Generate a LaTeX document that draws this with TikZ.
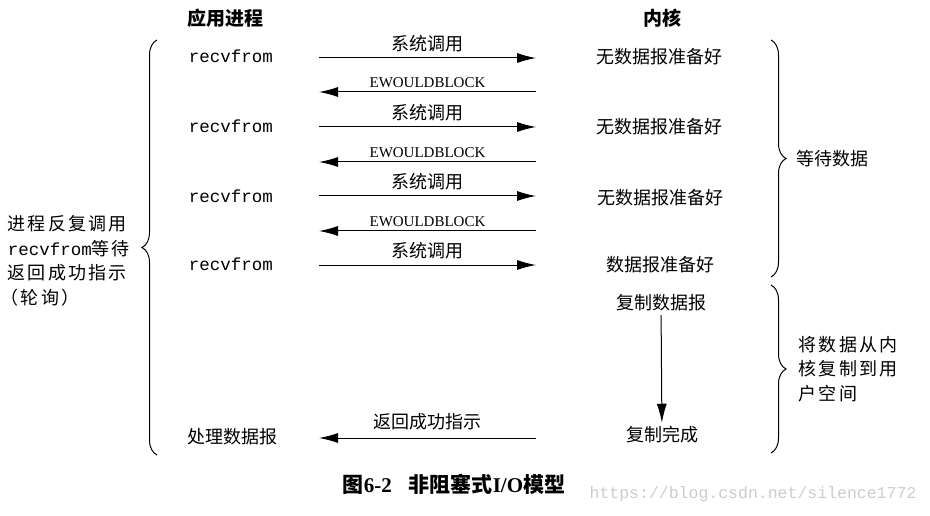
\documentclass[tikz,border=0pt]{standalone}
\usepackage{fontspec}
\setmainfont{Liberation Serif}
\setmonofont{Liberation Mono}
\newfontfamily\cjk{Noto Sans CJK SC}
\newfontfamily\cjkwide{Noto Sans CJK SC}[LetterSpace=12]
\usetikzlibrary{arrows.meta,decorations.pathreplacing,positioning}

\begin{document}
\begin{tikzpicture}[x=1pt, y=-1pt, line width=1pt,
    head/.style = {font=\cjk\bfseries\fontsize{19}{22}\selectfont},
    txt/.style = {font=\cjk\fontsize{18}{22}\selectfont},
    wide/.style = {font=\cjkwide\fontsize{18}{24.5}\selectfont, align=left, anchor=west},
    call/.style = {font=\ttfamily\fontsize{17.5}{20}\selectfont, anchor=west},
    err/.style = {font=\fontsize{15}{17}\selectfont},
    arr/.style = {-{Latex[length=19pt,width=10pt]}},
    brace/.style = {decorate, decoration={brace, amplitude=15pt}}]
    \useasboundingbox (0,0) rectangle (930,516);
    \node[head] (app) at (225,18) {应用进程};
    \node[head] (kern) at (662,18) {内核};
    \node[call] (r1) at (185,56) {recvfrom};
    \node[call] (r2) at (185,126) {recvfrom};
    \node[call] (r3) at (185,196) {recvfrom};
    \node[call] (r4) at (185,264) {recvfrom};
    \node[txt, anchor=west] (proc) at (184,437) {处理数据报};
    \node[txt] (k1) at (659,57) {无数据报准备好};
    \node[txt] (k2) at (659,127) {无数据报准备好};
    \node[txt] (k3) at (660,198) {无数据报准备好};
    \node[txt] (k4) at (660,265) {数据报准备好};
    \node[txt] (cp) at (661,303) {复制数据报};
    \node[txt] (done) at (662,435) {复制完成};
    \coordinate (a1) at (319,58);  \coordinate (b1) at (536,58);
    \coordinate (a2) at (319,92);  \coordinate (b2) at (536,92);
    \coordinate (a3) at (319,127); \coordinate (b3) at (536,127);
    \coordinate (a4) at (319,162); \coordinate (b4) at (536,162);
    \coordinate (a5) at (319,196); \coordinate (b5) at (536,196);
    \coordinate (a6) at (319,231); \coordinate (b6) at (536,231);
    \coordinate (a7) at (319,265); \coordinate (b7) at (536,265);
    \coordinate (a8) at (319,438); \coordinate (b8) at (536,438);
    \draw[arr] (a1) -- (b1) node [midway,above=2pt,txt] {系统调用};
    \draw[arr] (b2) -- (a2) node [midway,above=0pt,err] {EWOULDBLOCK};
    \draw[arr] (a3) -- (b3) node [midway,above=2pt,txt] {系统调用};
    \draw[arr] (b4) -- (a4) node [midway,above=0pt,err] {EWOULDBLOCK};
    \draw[arr] (a5) -- (b5) node [midway,above=2pt,txt] {系统调用};
    \draw[arr] (b6) -- (a6) node [midway,above=0pt,err] {EWOULDBLOCK};
    \draw[arr] (a7) -- (b7) node [midway,above=2pt,txt] {系统调用};
    \draw[arr] (b8) -- (a8) node [midway,above=4pt,txt] {返回成功指示};
    \draw[arr] (cp) -- (done);
    \draw[brace] (157,455) -- (157,40);
    \node[wide] (poll) at (4,261) {进程反复调用\\{\ttfamily\fontsize{17.5}{20}\selectfont recvfrom}等待\\返回成功指示\\\kern-7pt（轮询）};
    \draw[brace] (771,40) -- (771,277) node [midway,right=22pt,txt] (wait) {等待数据};
    \draw[brace] (771,285) -- (771,453);
    \node[wide] (copy) at (795,369) {将数据从内\\核复制到用\\户空间};
    \node[font=\cjk\bfseries\fontsize{21}{23}\selectfont] (cap) at (454,484) {图{\rmfamily 6-2}\hspace{17pt}非阻塞式{\rmfamily I/O}模型};
    \node[font=\ttfamily\fontsize{16.5}{18}\selectfont, text=gray!40] (mark) at (753,494) {https://blog.csdn.net/silence1772};
\end{tikzpicture}
\end{document}
